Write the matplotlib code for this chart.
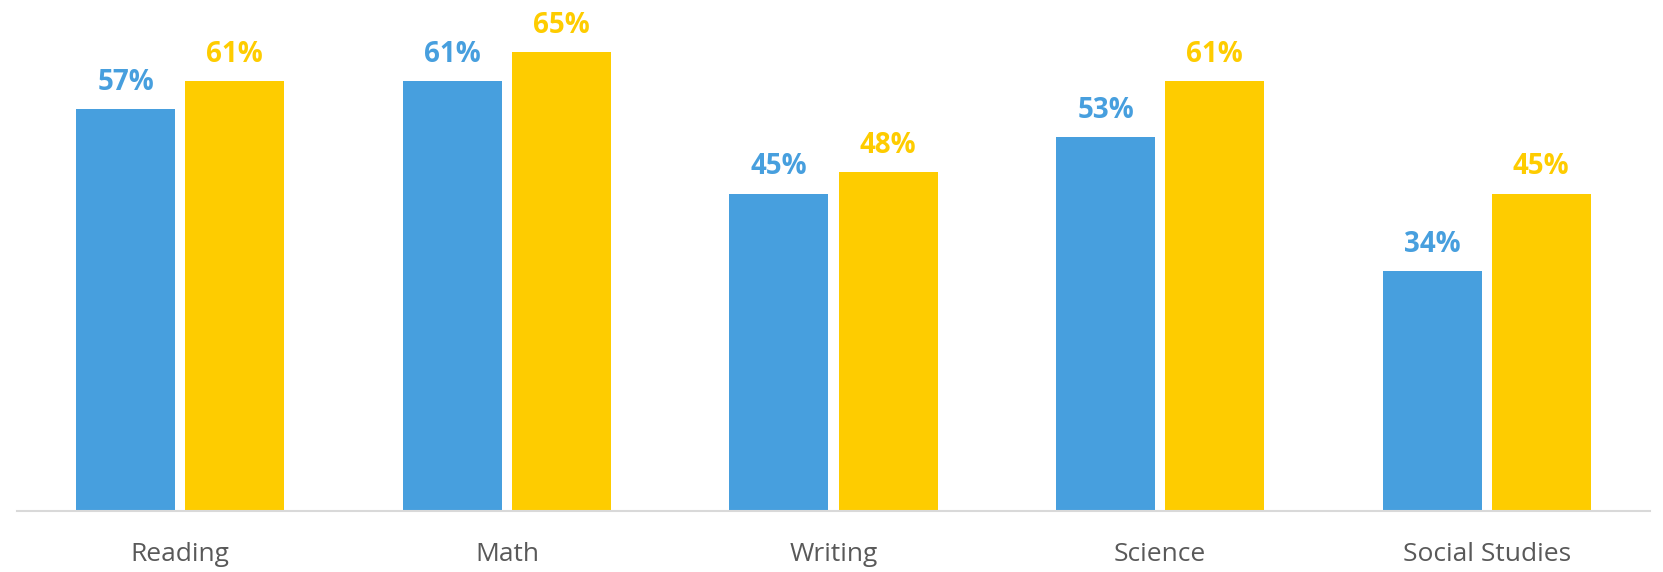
import numpy as np
import matplotlib.pyplot as plt

categories = ['Reading', 'Math', 'Writing', 'Science', 'Social Studies']
series_a = [57, 61, 45, 53, 34]   # blue
series_b = [61, 65, 48, 61, 45]   # yellow

blue = '#479FDE'
yellow = '#FECC00'

plt.rcParams['font.family'] = ['Open Sans', 'DejaVu Sans']

fig = plt.figure(figsize=(16.63, 5.72), dpi=100)
ax = fig.add_axes([17 / 1663, 61 / 572, 1633 / 1663, 508 / 572])

x = np.arange(len(categories))
w = 0.303
off = 0.167
bars_a = ax.bar(x - off, series_a, w, color=blue)
bars_b = ax.bar(x + off, series_b, w, color=yellow)

# value labels above bars
for bars, vals, col in [(bars_a, series_a, blue), (bars_b, series_b, yellow)]:
    for b, v in zip(bars, vals):
        ax.annotate(f'{v}%', (b.get_x() + b.get_width() / 2, v),
                    xytext=(0, 19), textcoords='offset pixels',
                    ha='center', va='baseline', color=col,
                    fontsize=20, fontweight='bold')

ax.set_xlim(-0.5, len(categories) - 0.5)
ax.set_ylim(0, 72)
ax.set_xticks(x)
ax.set_xticklabels(categories, fontsize=19, color='#595959')
ax.tick_params(axis='x', length=0, pad=22)
ax.set_yticks([])
for s in ['top', 'left', 'right']:
    ax.spines[s].set_visible(False)
ax.spines['bottom'].set_color('#D9D9D9')
ax.spines['bottom'].set_linewidth(1.5)

fig.savefig('out.png', dpi=100)
